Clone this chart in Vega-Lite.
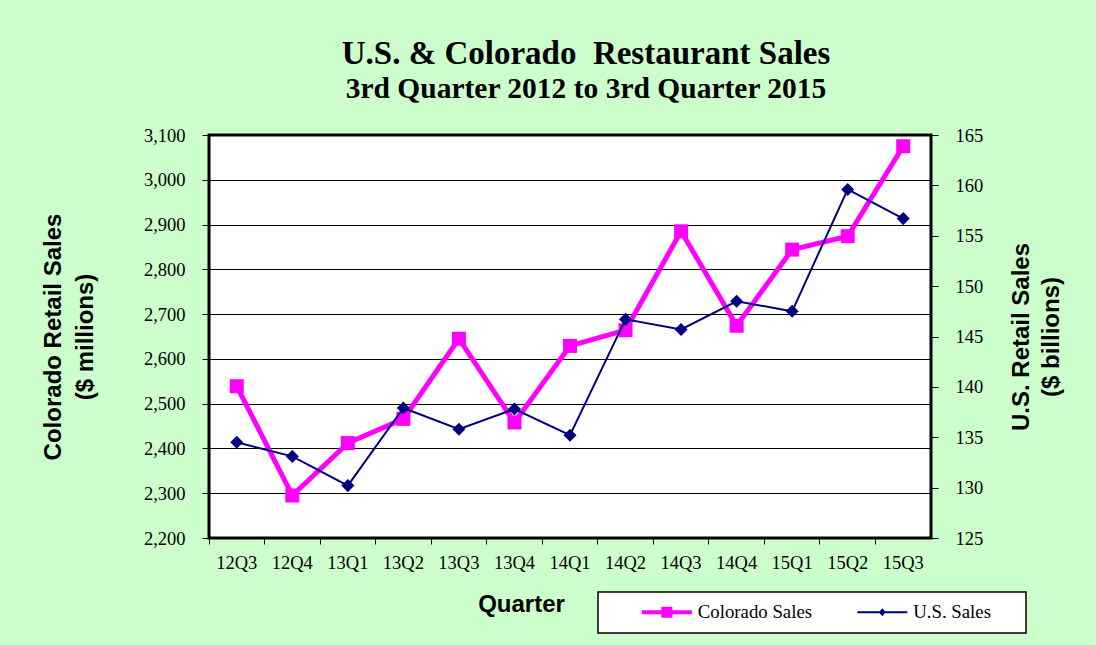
{
  "$schema": "https://vega.github.io/schema/vega-lite/v6.json",
  "width": 722,
  "height": 403,
  "autosize": {"type": "none"},
  "padding": {"left": 209, "top": 135, "right": 165, "bottom": 107},
  "background": "#CCFFCC",
  "title": {
    "text": "U.S. & Colorado\u00a0 Restaurant Sales",
    "subtitle": "3rd Quarter 2012 to 3rd Quarter 2015",
    "font": "Liberation Serif",
    "fontSize": 33,
    "fontWeight": "bold",
    "color": "black",
    "subtitleFont": "Liberation Serif",
    "subtitleFontSize": 29.5,
    "subtitleFontWeight": "bold",
    "subtitleColor": "black",
    "subtitlePadding": 4,
    "anchor": "middle",
    "offset": 23,
    "dx": 16
  },
  "data": {
    "values": [
      {"q": "12Q3", "co": 2539, "us": 134.5},
      {"q": "12Q4", "co": 2295, "us": 133.1},
      {"q": "13Q1", "co": 2412, "us": 130.2},
      {"q": "13Q2", "co": 2466, "us": 137.9},
      {"q": "13Q3", "co": 2645, "us": 135.8},
      {"q": "13Q4", "co": 2458, "us": 137.8},
      {"q": "14Q1", "co": 2629, "us": 135.2},
      {"q": "14Q2", "co": 2664, "us": 146.7},
      {"q": "14Q3", "co": 2885, "us": 145.7},
      {"q": "14Q4", "co": 2674, "us": 148.5},
      {"q": "15Q1", "co": 2844, "us": 147.5},
      {"q": "15Q2", "co": 2874, "us": 159.6},
      {"q": "15Q3", "co": 3075, "us": 156.7}
    ]
  },
  "encoding": {
    "x": {
      "field": "q",
      "type": "ordinal",
      "sort": null,
      "bandPosition": 0.5,
      "scale": {"type": "band", "paddingInner": 0, "paddingOuter": 0},
      "axis": {
        "title": "Quarter",
        "titleFont": "Liberation Sans",
        "titleFontSize": 24,
        "titleFontWeight": "bold",
        "titleColor": "black",
        "titlePadding": 21,
        "titleX": 312,
        "labelFont": "Liberation Serif",
        "labelFontSize": 18.5,
        "labelColor": "black",
        "labelAngle": 0,
        "labelPadding": 9,
        "bandPosition": 0,
        "tickSize": 6,
        "tickColor": "black",
        "tickWidth": 1,
        "domain": false,
        "grid": false
      }
    }
  },
  "layer": [
    {
      "mark": {
        "type": "line",
        "strokeWidth": 5,
        "point": {"shape": "square", "size": 196, "filled": true, "opacity": 1}
      },
      "encoding": {
        "y": {
          "field": "co",
          "type": "quantitative",
          "scale": {"domain": [2200, 3100], "nice": false, "zero": false},
          "axis": {
            "orient": "left",
            "title": ["Colorado Retail Sales", "($ millions)"],
            "values": [2200, 2300, 2400, 2500, 2600, 2700, 2800, 2900, 3000, 3100],
            "format": ",.0f",
            "grid": true,
            "gridColor": "black",
            "gridWidth": 1,
            "domain": false,
            "tickSize": 7,
            "tickColor": "black",
            "labelFont": "Liberation Serif",
            "labelFontSize": 18.5,
            "labelColor": "black",
            "labelPadding": 17,
            "titleFont": "Liberation Sans",
            "titleFontSize": 24,
            "titleFontWeight": "bold",
            "titleColor": "black",
            "titleLineHeight": 32,
            "titlePadding": 46
          }
        },
        "color": {
          "datum": "Colorado Sales",
          "type": "nominal",
          "scale": {"domain": ["Colorado Sales", "U.S. Sales"], "range": ["#FF00FF", "#000080"]},
          "legend": {
            "title": "MMM",
            "titleOrient": "right",
            "titleColor": "white",
            "titleFont": "Liberation Serif",
            "titleFontSize": 8.5,
            "titlePadding": 0,
            "orient": "none",
            "legendX": 389,
            "legendY": 457,
            "direction": "horizontal",
            "fillColor": "white",
            "strokeColor": "black",
            "padding": 10.5,
            "columnPadding": 11.4,
            "symbolSize": 100,
            "symbolStrokeWidth": 0,
            "labelFont": "Liberation Serif",
            "labelFontSize": 18.8,
            "labelColor": "black",
            "labelOffset": 70.5,
            "labelBaseline": "middle",
            "encode": {
              "symbols": {
                "update": {
                  "shape": {"signal": "datum.value === 'Colorado Sales' ? 'M4.8,-0.4H14.8V0.4H4.8Z M8.7,-1.1H10.9V1.1H8.7Z' : 'M4.8,-0.2H14.8V0.2H4.8Z M9.8,-0.8L10.5,0L9.8,0.8L9.1,0Z'"},
                  "fill": {"signal": "datum.value === 'Colorado Sales' ? '#FF00FF' : '#000080'"},
                  "fillOpacity": {"value": 1},
                  "opacity": {"value": 1},
                  "strokeWidth": {"value": 0},
                  "size": {"value": 100}
                }
              },
              "legend": {
                "update": {"strokeWidth": {"value": 1.5}}
              }
            }
          }
        }
      }
    },
    {
      "mark": {
        "type": "line",
        "strokeWidth": 2,
        "point": {"shape": "diamond", "size": 170, "filled": true, "opacity": 1}
      },
      "encoding": {
        "y": {
          "field": "us",
          "type": "quantitative",
          "scale": {"domain": [125, 165], "nice": false, "zero": false},
          "axis": {
            "orient": "right",
            "title": ["U.S. Retail Sales", "($ billions)"],
            "values": [125, 130, 135, 140, 145, 150, 155, 160, 165],
            "grid": false,
            "domain": false,
            "tickSize": 7,
            "tickColor": "black",
            "labelFont": "Liberation Serif",
            "labelFontSize": 18.5,
            "labelColor": "black",
            "labelPadding": 17,
            "titleFont": "Liberation Sans",
            "titleFontSize": 24,
            "titleFontWeight": "bold",
            "titleColor": "black",
            "titleLineHeight": 30,
            "titleAngle": 270,
            "titleBaseline": "top",
            "titlePadding": -3
          }
        },
        "color": {"datum": "U.S. Sales", "type": "nominal"}
      }
    }
  ],
  "resolve": {"scale": {"y": "independent"}},
  "config": {
    "view": {"fill": "white", "stroke": "black", "strokeWidth": 3}
  }
}
